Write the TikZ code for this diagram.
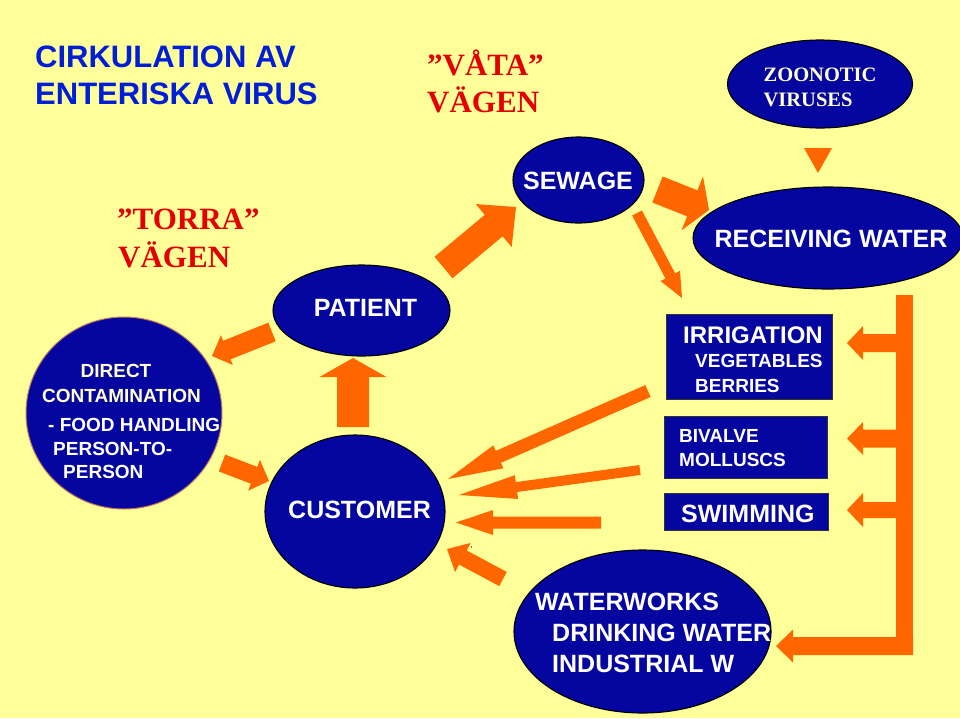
\documentclass[tikz,border=0pt]{standalone}
\usepackage{fontspec}
\usetikzlibrary{calc,shapes.geometric}
\newfontfamily\arialf{Liberation Sans}
\newfontfamily\timesf{Liberation Serif}
\definecolor{bgc}{RGB}{255,255,153}
\definecolor{nodeblue}{RGB}{5,5,160}
\definecolor{arrowc}{RGB}{255,102,0}
\definecolor{titleblue}{RGB}{0,30,215}
\definecolor{redtxt}{RGB}{228,0,0}
\definecolor{paleyellow}{RGB}{255,255,204}
\definecolor{rimc}{RGB}{190,120,90}
% block arrow: from, to, shaft half width, head half width, head length
\newcommand{\barrow}[5]{%
  \fill[arrowc] ($(#1)!#3!90:(#2)$) -- ($(#2)!#5!(#1)!#3!-90:(#1)$) -- ($(#2)!#5!(#1)!#4!-90:(#1)$) -- (#2) -- ($(#2)!#5!(#1)!#4!90:(#1)$) -- ($(#2)!#5!(#1)!#3!90:(#1)$) -- ($(#1)!#3!-90:(#2)$) -- cycle;}
\begin{document}
\begin{tikzpicture}[x=1pt,y=-1pt,
  blob/.style={ellipse,fill=nodeblue,draw=black,line width=1.1pt,inner sep=0pt},
  boxs/.style={rectangle,fill=nodeblue,draw=black!80,line width=1pt,inner sep=0pt},
  lbl/.style={text=white,inner sep=0pt,font=\arialf\bfseries\fontsize{25}{30}\selectfont},
  small/.style={lbl,font=\arialf\bfseries\fontsize{19}{23}\selectfont},
  redlbl/.style={text=redtxt,inner sep=0pt,anchor=base west,font=\timesf\bfseries\fontsize{31}{37}\selectfont},
  titlelbl/.style={text=titleblue,inner sep=0pt,anchor=base west,font=\arialf\bfseries\fontsize{31}{37}\selectfont}]
\fill[bgc] (0,0) rectangle (960,718);
\useasboundingbox (0,0) rectangle (960,718);

% titles
\node[titlelbl] (t1) at (35,67) {CIRKULATION AV};
\node[titlelbl] (t2) at (35,104) {ENTERISKA VIRUS};
\node[redlbl] (v1) at (427,75) {”VÅTA”};
\node[redlbl] (v2) at (427,112) {VÄGEN};
\node[redlbl] (r1) at (117,229) {”TORRA”};
\node[redlbl] (r2) at (118,267) {VÄGEN};

% ellipses
\node[blob,minimum width=185pt,minimum height=88pt] (zoo) at (820,84) {};
\node[inner sep=0pt,align=left,text=paleyellow,font=\timesf\bfseries\fontsize{20.5}{25}\selectfont] (zoot) at (820,87.5) {ZOONOTIC\\VIRUSES};
\node[blob,minimum width=270pt,minimum height=102pt] (rw) at (828,238) {};
\node[lbl] (rwt) at (831,239) {RECEIVING WATER};
\node[blob,minimum width=131pt,minimum height=86pt] (sew) at (578.5,180) {};
\node[lbl] (sewt) at (578,181) {SEWAGE};
\node[blob,minimum width=177pt,minimum height=91pt] (pat) at (361.5,310.5) {};
\node[lbl] (patt) at (365.5,308) {PATIENT};
\node[blob,minimum width=180pt,minimum height=153pt] (cus) at (355,511.5) {};
\node[lbl] (cust) at (359.5,509.5) {CUSTOMER};
\node[blob,minimum width=257pt,minimum height=163pt] (ww) at (642.5,631.5) {};
\node[lbl,anchor=base west] (ww1) at (535,610) {WATERWORKS};
\node[lbl,anchor=base west] (ww2) at (552,641) {DRINKING WATER};
\node[lbl,anchor=base west] (ww3) at (552,672) {INDUSTRIAL W};

% direct contamination circle
\node[ellipse,fill=nodeblue,draw=rimc,line width=1pt,minimum width=196pt,minimum height=192pt,inner sep=0pt] (dc) at (124,413) {};
\node[small,text=paleyellow,anchor=base] (dc1) at (116,377) {DIRECT};
\node[small,text=paleyellow,anchor=base] (dc2) at (121.5,402) {CONTAMINATION};
\node[small,anchor=base west] (dc3) at (48,431) {- FOOD HANDLING};
\node[small,anchor=base west] (dc4) at (53,455) {PERSON-TO-};
\node[small,anchor=base west] (dc5) at (63,478) {PERSON};

% boxes
\node[boxs,minimum width=166pt,minimum height=85pt] (irr) at (749,356.5) {};
\node[lbl,font=\arialf\bfseries\fontsize{24}{28}\selectfont,anchor=base west] (irr1) at (683,343) {IRRIGATION};
\node[small,anchor=base west] (irr2) at (695,367) {VEGETABLES};
\node[small,anchor=base west] (irr3) at (695,392) {BERRIES};
\node[boxs,minimum width=163pt,minimum height=62pt] (biv) at (745.5,447) {};
\node[small,anchor=base west] (biv1) at (679,442) {BIVALVE};
\node[small,anchor=base west] (biv2) at (679,466) {MOLLUSCS};
\node[boxs,minimum width=164pt,minimum height=37pt] (swi) at (746,511.5) {};
\node[lbl,anchor=base west] (swit) at (681,522) {SWIMMING};

% arrow coordinates
\coordinate (ps1) at (443.5,267.5); \coordinate (ps2) at (516,207);
\coordinate (sr1) at (657.5,189.5); \coordinate (sr2) at (709,210);
\coordinate (si1) at (637,213);     \coordinate (si2) at (682,298);
\coordinate (pd1) at (272,332);     \coordinate (pd2) at (212,356);
\coordinate (dcu1) at (222,463);    \coordinate (dcu2) at (269,481);
\coordinate (cp1) at (353,427);     \coordinate (cp2) at (353,358);
\coordinate (ca1) at (648,391);     \coordinate (ca2) at (448,479);
\coordinate (cb1) at (640,470);     \coordinate (cb2) at (459,495);
\coordinate (cc1) at (601,522.5);   \coordinate (cc2) at (456,522.5);
\coordinate (cd1) at (503,579);     \coordinate (cd2) at (447,549);
\coordinate (zt1) at (804,148);     \coordinate (zt2) at (832,148); \coordinate (zt3) at (818,173);
\coordinate (bar1) at (896,295);    \coordinate (bar2) at (913,655);
\coordinate (b1s) at (897,343);     \coordinate (b1e) at (847,343);
\coordinate (b2s) at (897,438.5);   \coordinate (b2e) at (847,438.5);
\coordinate (b3s) at (897,510);     \coordinate (b3e) at (847,510);
\coordinate (b4s) at (913,646);     \coordinate (b4e) at (776,646);

% arrows
\barrow{ps1}{ps2}{14pt}{28pt}{29pt}
\barrow{sr1}{sr2}{14pt}{29pt}{18pt}
\barrow{si1}{si2}{5.5pt}{11pt}{25pt}
\barrow{pd1}{pd2}{10pt}{16pt}{16pt}
\barrow{dcu1}{dcu2}{9pt}{16.5pt}{16pt}
\barrow{cp1}{cp2}{16pt}{33.5pt}{19pt}
\barrow{ca1}{ca2}{6.5pt}{12.5pt}{55pt}
\barrow{cb1}{cb2}{5pt}{12pt}{58pt}
\barrow{cc1}{cc2}{6pt}{12.5pt}{37pt}
\barrow{cd1}{cd2}{8pt}{16.5pt}{18pt}
\fill[arrowc] (zt1) -- (zt2) -- (zt3) -- cycle;
\fill[arrowc] (bar1) rectangle (bar2);
\barrow{b1s}{b1e}{9pt}{17pt}{16pt}
\barrow{b2s}{b2e}{9pt}{16.5pt}{16pt}
\barrow{b3s}{b3e}{8pt}{17pt}{16pt}
\barrow{b4s}{b4e}{9pt}{16.5pt}{17pt}
\fill[black] (471.5,547) circle (0.7pt);
\end{tikzpicture}
\end{document}
